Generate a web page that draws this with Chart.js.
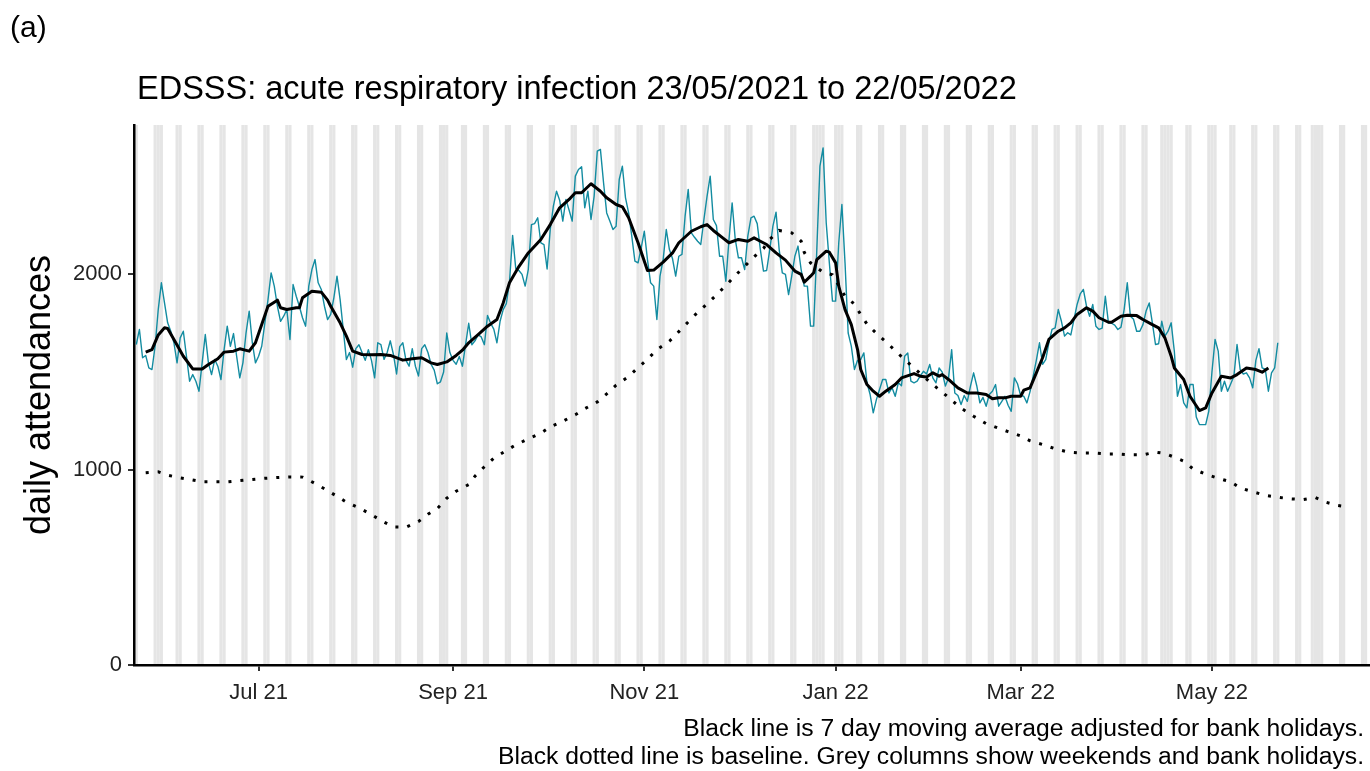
<!DOCTYPE html>
<html>
<head>
<meta charset="utf-8">
<script src="https://cdn.jsdelivr.net/npm/chart.js@4.4.1/dist/chart.umd.min.js"></script>
<style>
html, body { margin: 0; padding: 0; background: #fff; }
#wrap { position: relative; width: 1370px; height: 771px; overflow: hidden; font-family: "Liberation Sans", Arial, sans-serif; color: #000; }
#c { position: absolute; left: 0; top: 0; }
.txt { position: absolute; white-space: nowrap; line-height: 1; }
</style>
</head>
<body>
<div id="wrap">
  <canvas id="c" width="1370" height="771"></canvas>
  <div class="txt" style="left:10px;top:12px;font-size:30px">(a)</div>
  <div class="txt" style="left:137px;top:72px;font-size:32.5px">EDSSS: acute respiratory infection 23/05/2021 to 22/05/2022</div>
  <div class="txt" style="right:6px;top:716px;font-size:24.7px">Black line is 7 day moving average adjusted for bank holidays.</div>
  <div class="txt" style="right:6px;top:744px;font-size:24.7px">Black dotted line is baseline. Grey columns show weekends and bank holidays.</div>
</div>
<script>
// day 0 = Sunday 23/05/2021
const startDate = '2021-05-23';

// daily attendances, one value per day from 23/05/2021 to 22/05/2022
const dailyCounts = [
  1641,1718,1573,1585,1521,1513,1632,
  1820,1957,1854,1752,1709,1650,1547,
  1675,1709,1581,1453,1487,1453,1402,
  1547,1692,1547,1487,1564,1530,1462,
  1615,1735,1632,1697,1581,1470,1547,
  1701,1812,1650,1547,1581,1632,1752,
  1871,2008,1940,1837,1760,1786,1820,
  1667,1948,1888,1837,1778,1735,1940,
  2025,2076,1957,1923,1837,1769,1795,
  1880,1991,1871,1718,1564,1600,1525,
  1620,1640,1600,1560,1615,1560,1470,
  1650,1640,1565,1600,1660,1590,1490,
  1630,1650,1560,1530,1620,1530,1480,
  1620,1640,1600,1540,1510,1440,1450,
  1500,1700,1600,1560,1540,1580,1530,
  1640,1750,1640,1660,1690,1680,1640,
  1790,1750,1720,1650,1760,1820,1850,
  1960,2200,2030,2020,2000,1940,2025,
  2255,2260,2290,2162,2153,2028,2230,
  2350,2426,2380,2273,2384,2330,2273,
  2503,2537,2551,2341,2426,2281,2401,
  2631,2640,2469,2315,2273,2230,2247,
  2486,2554,2392,2315,2196,2068,2059,
  2136,2221,2076,1957,1940,1769,1991,
  2076,2230,2127,2080,1991,2093,2102,
  2298,2435,2213,2190,2170,2153,2281,
  2400,2503,2281,2250,2093,2093,1965,
  2179,2366,2179,2085,2085,2025,2196,
  2290,2298,2260,2127,2017,2020,2127,
  2247,2319,2127,2008,2000,1897,1991,
  2093,2145,2025,1940,1940,1735,1735,
  2127,2554,2648,2264,2059,1863,1863,
  2162,2358,2059,1700,1633,1513,1560,
  1564,1598,1445,1385,1291,1359,1411,
  1462,1462,1393,1420,1376,1445,1430,
  1581,1598,1453,1445,1453,1480,1504,
  1490,1539,1470,1445,1521,1500,1428,
  1470,1615,1393,1380,1334,1380,1350,
  1428,1496,1430,1342,1370,1325,1385,
  1402,1436,1325,1350,1376,1330,1299,
  1470,1440,1380,1376,1342,1400,1479,
  1560,1650,1540,1564,1650,1718,1726,
  1820,1760,1684,1701,1690,1769,1846,
  1900,1923,1837,1786,1846,1735,1718,
  1725,1888,1752,1750,1740,1718,1730,
  1820,1957,1786,1770,1709,1709,1743,
  1812,1854,1752,1641,1645,1760,1684,
  1709,1752,1607,1376,1436,1342,1317,
  1436,1436,1270,1231,1231,1231,1300,
  1500,1667,1607,1402,1453,1402,1440,
  1479,1641,1513,1490,1496,1470,1419,
  1560,1620,1521,1515,1402,1496,1521,
  1650
];

// 7 day moving average (day index, value)
const maDays = [3,5,7,9,10,12,15,18,21,23,
  26,28,31,33,36,38,40,42,45,46,
  48,51,52,53,56,59,61,62,65,67,
  69,72,75,78,81,85,88,91,94,96,
  99,102,104,106,109,112,115,117,119,122,
  125,129,132,135,138,140,142,145,148,150,
  153,155,157,160,163,165,168,171,173,177,
  180,182,184,187,189,192,195,197,199,201,
  204,207,210,212,213,215,216,217,220,221,
  223,224,226,228,230,231,233,235,237,239,
  242,244,248,250,252,254,256,257,259,262,
  265,268,271,273,275,277,279,282,283,285,
  287,289,291,294,296,298,300,303,305,307,
  310,311,314,316,319,321,324,326,328,330,
  331,334,336,339,341,343,346,349,351,354,
  357,359,361];
const maValues = [1602,1615,1690,1727,1723,1667,1581,1516,1516,1539,
  1568,1602,1607,1619,1607,1650,1743,1837,1868,1829,
  1820,1829,1829,1880,1914,1909,1868,1837,1752,1684,
  1607,1590,1588,1590,1585,1561,1568,1573,1547,1539,
  1552,1585,1612,1650,1692,1735,1769,1854,1957,2040,
  2110,2179,2255,2341,2384,2418,2418,2464,2426,2392,
  2358,2346,2290,2162,2020,2022,2063,2110,2162,2221,
  2244,2255,2225,2187,2162,2179,2170,2187,2170,2153,
  2110,2073,2017,2000,1960,1991,2008,2076,2119,2114,
  2059,1940,1820,1743,1615,1513,1436,1402,1376,1402,
  1436,1470,1492,1479,1475,1496,1479,1487,1462,1419,
  1393,1393,1385,1363,1368,1368,1376,1376,1407,1419,
  1496,1573,1667,1709,1726,1752,1795,1829,1812,1778,
  1755,1755,1786,1791,1789,1769,1743,1726,1675,1581,
  1521,1462,1376,1303,1317,1393,1479,1470,1487,1521,
  1513,1499,1521];

// baseline (day index, value)
const baseDays = [3,7,10,14,17,21,25,29,33,37,
  41,45,49,53,56,60,64,67,71,75,
  78,82,86,90,93,96,99,102,106,108,
  111,114,118,121,125,129,132,136,140,143,
  147,150,153,157,160,163,166,170,173,176,
  179,182,185,188,191,194,197,200,202,205,
  209,212,213,215,219,222,226,229,231,233,
  236,239,242,245,248,251,254,257,260,263,
  267,271,274,278,282,285,289,293,297,301,
  305,309,313,317,321,325,328,331,334,337,
  341,345,349,352,356,360,364,368,372,376,
  379,383,387];
const baseValues = [984,989,972,958,950,938,938,938,944,950,
  956,960,963,962,938,902,864,834,805,770,
  740,707,706,735,772,801,854,890,924,967,
  1015,1059,1098,1127,1158,1187,1219,1248,1281,1312,
  1347,1388,1433,1477,1523,1566,1614,1658,1707,1757,
  1806,1849,1895,1943,1994,2042,2090,2133,2179,2225,
  2213,2170,2113,2059,2011,1998,1888,1848,1794,1746,
  1698,1655,1610,1564,1520,1478,1436,1397,1356,1315,
  1274,1236,1218,1195,1173,1148,1129,1107,1091,1086,
  1086,1081,1081,1076,1076,1090,1083,1064,1044,1004,
  977,956,938,907,887,869,859,851,847,857,
  835,817,808];

const bankHolidays = ['2021-05-31','2021-08-30','2021-12-27','2021-12-28','2022-01-03',
  '2022-04-15','2022-04-18','2022-05-02','2022-06-02','2022-06-03'];

const tickDays = [39, 101, 162, 223, 282, 343];
const tickLabels = ['Jul 21', 'Sep 21', 'Nov 21', 'Jan 22', 'Mar 22', 'May 22'];
const yTicks = [0, 1000, 2000];

const xMin = -0.73, xMax = 393.4;

// grey columns: weekends + bank holidays
const DAY = 86400000;
const t0 = Date.parse(startDate + 'T00:00:00Z');
const bhIdx = bankHolidays.map(s => Math.round((Date.parse(s + 'T00:00:00Z') - t0) / DAY));
const greyDays = [];
for (let d = -1; d <= 394; d++) {
  const wd = new Date(t0 + d * DAY).getUTCDay();
  if (wd === 0 || wd === 6 || bhIdx.includes(d)) greyDays.push(d);
}

// drawn before the axes so the axis lines stay on top
const greyCols = {
  id: 'greyCols',
  beforeDraw(chart) {
    const {ctx, chartArea: a, scales: {x}} = chart;
    ctx.save();
    ctx.beginPath();
    ctx.rect(a.left, a.top, a.right - a.left, a.bottom - a.top);
    ctx.clip();
    ctx.fillStyle = '#e5e5e5';
    greyDays.forEach(d => {
      const x0 = x.getPixelForValue(d - 0.5);
      const x1 = x.getPixelForValue(d + 0.5);
      ctx.fillRect(x0, a.top, x1 - x0, a.bottom - a.top);
    });
    ctx.restore();
  }
};

Chart.defaults.font.family = '"Liberation Sans", Arial, sans-serif';

new Chart(document.getElementById('c'), {
  type: 'line',
  data: {
    datasets: [
      {
        label: '7 day moving average',
        data: maDays.map((d, i) => ({x: d, y: maValues[i]})),
        borderColor: '#000', borderWidth: 3, pointRadius: 0, borderJoinStyle: 'round'
      },
      {
        label: 'baseline',
        data: baseDays.map((d, i) => ({x: d, y: baseValues[i]})),
        borderColor: '#000', borderWidth: 3, borderDash: [3, 9], pointRadius: 0
      },
      {
        label: 'daily attendances',
        data: dailyCounts.map((v, i) => ({x: i, y: v})),
        borderColor: '#138ca1', borderWidth: 1.4, pointRadius: 0, borderJoinStyle: 'round'
      }
    ]
  },
  options: {
    responsive: false,
    animation: false,
    devicePixelRatio: 1,
    layout: {padding: {top: 125, right: 0, bottom: 0, left: 0}},
    plugins: {legend: {display: false}, tooltip: {enabled: false}},
    scales: {
      x: {
        type: 'linear', min: xMin, max: xMax,
        afterBuildTicks: s => { s.ticks = tickDays.map(v => ({value: v})); },
        afterFit: s => { s.height = 106; },
        ticks: {
          callback: v => tickLabels[tickDays.indexOf(v)],
          font: {size: 22}, color: '#222', padding: 9, maxRotation: 0, autoSkip: false
        },
        grid: {drawOnChartArea: false, drawTicks: true, tickLength: 6, color: '#333', lineWidth: 2},
        border: {display: true, color: '#000', width: 2.5}
      },
      y: {
        min: 0, max: 2765,
        afterBuildTicks: s => { s.ticks = yTicks.map(v => ({value: v})); },
        afterFit: s => { s.width = 134; },
        ticks: {font: {size: 22}, color: '#222', padding: 6, callback: v => String(v)},
        grid: {drawOnChartArea: false, drawTicks: true, tickLength: 6, color: '#333', lineWidth: 2},
        border: {display: true, color: '#000', width: 2.5},
        title: {display: true, text: 'daily attendances', font: {size: 36}, color: '#000', padding: {top: 18, bottom: 0}}
      }
    }
  },
  plugins: [greyCols]
});
</script>
</body>
</html>
